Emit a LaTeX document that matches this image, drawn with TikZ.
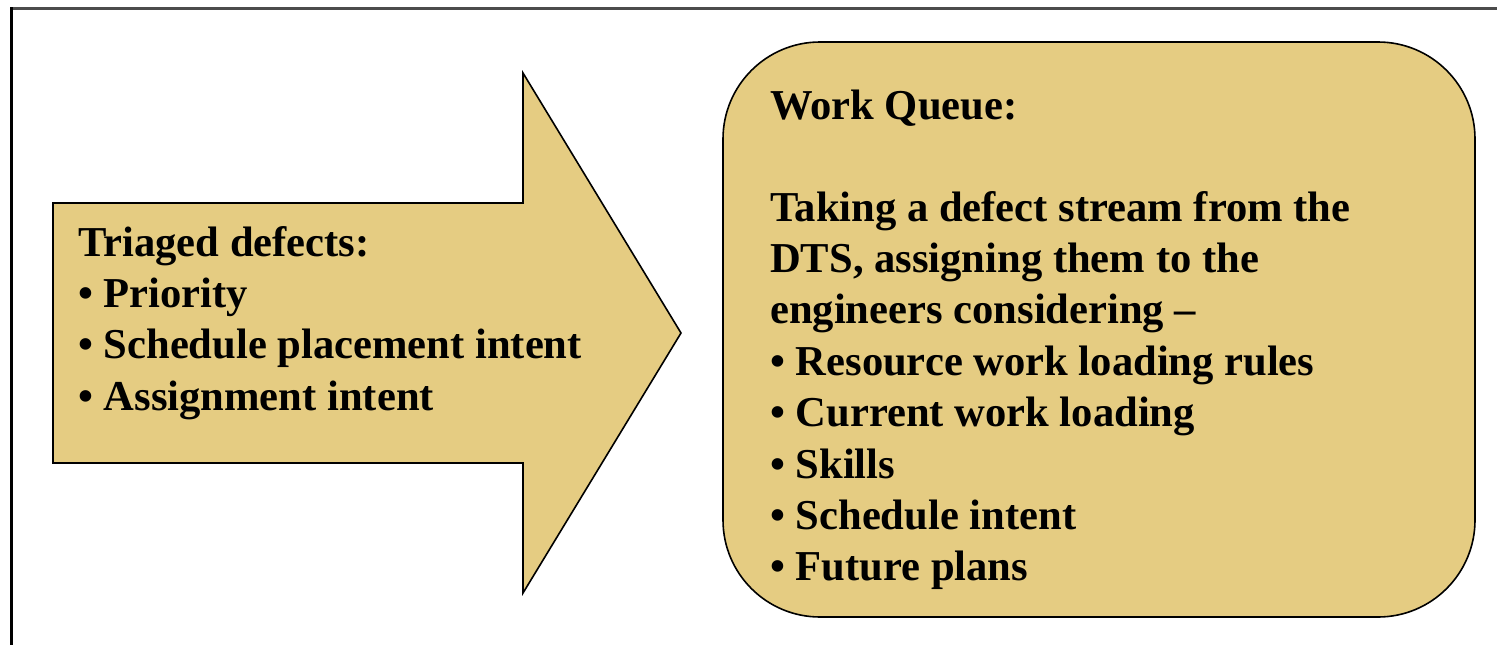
\documentclass[tikz,border=0pt]{standalone}
\usepackage{fontspec}
\setmainfont{Liberation Serif}
\definecolor{sand}{RGB}{229,204,130}
\begin{document}
\begin{tikzpicture}[x=1pt,y=-1pt,
  panel/.style={draw=black, line width=1.6pt, fill=sand, line join=miter},
  txt/.style={anchor=base west, inner sep=0pt, font=\fontsize{42.6}{51.3}\selectfont\bfseries}]
\useasboundingbox (0,0) rectangle (1497,645);
% outer frame
\draw[line width=2.4pt, gray!60!black] (10,8.5) -- (1497,8.5);
\draw[line width=3pt, black] (11.2,7.3) -- (11.2,645);
% block arrow
\draw[panel] (53,203) -- (523,203) -- (523,73) -- (681,333) -- (523,593)
  -- (523,463) -- (53,463) -- cycle;
% rounded work-queue box
\draw[panel, rounded corners=97pt] (723,42) rectangle (1475,617);
% arrow text
\foreach \y/\t [count=\i] in {256/Triaged defects:, 307.4/• Priority,
    358.8/• Schedule placement intent, 410.2/• Assignment intent}
  \node[txt, name=td\i] at (78,\y) {\t};
% box text
\foreach \y/\t [count=\i] in {119/Work Queue:, 221/Taking a defect stream from the,
    272.4/{DTS, assigning them to the}, 323.8/engineers considering –,
    375.2/• Resource work loading rules, 426.6/• Current work loading,
    478/• Skills, 529.4/• Schedule intent, 580.8/• Future plans}
  \node[txt, name=wq\i] at (770,\y) {\t};
\end{tikzpicture}
\end{document}
